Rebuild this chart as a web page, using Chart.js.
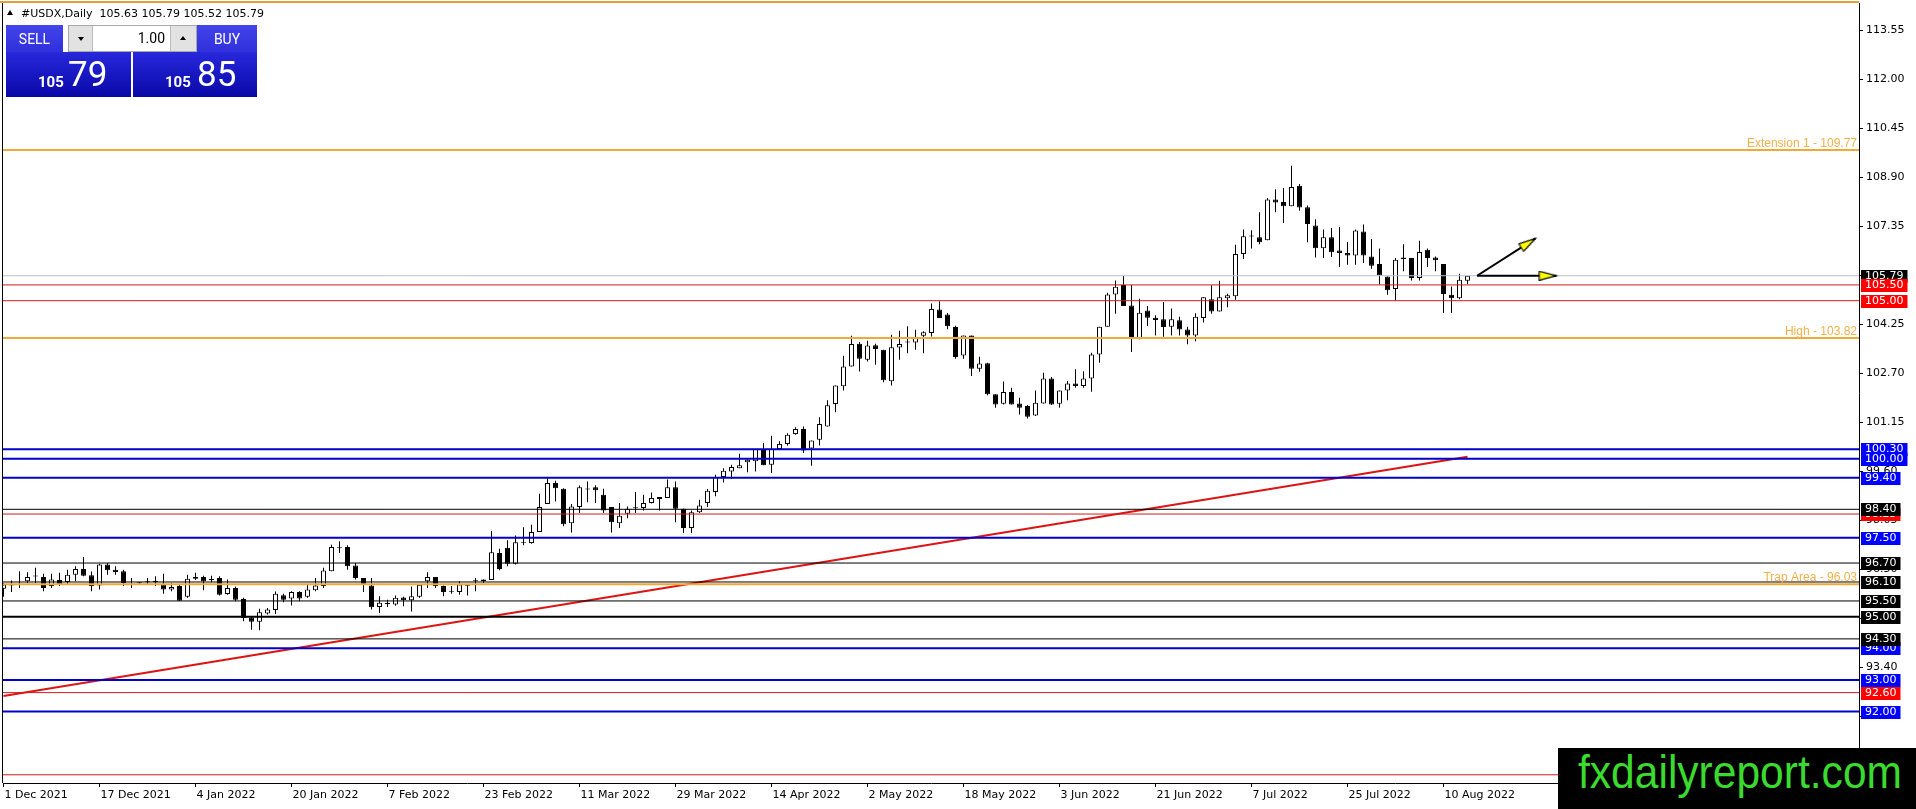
<!DOCTYPE html>
<html><head><meta charset="utf-8">
<script src="https://cdn.jsdelivr.net/npm/chart.js@4.4.1/dist/chart.umd.min.js"></script>
<style>
html,body{margin:0;padding:0;background:#fff;overflow:hidden;}
#wrap{position:relative;width:1916px;height:809px;}
#c{position:absolute;left:0;top:0;width:1916px;height:809px;}
#tri{position:absolute;left:7px;top:10px;width:0;height:0;border-left:3.5px solid transparent;border-right:3.5px solid transparent;border-bottom:5px solid #000;}
#title{position:absolute;left:21px;top:7px;font:11px/13px 'DejaVu Sans';white-space:pre;color:#000;}
.head{position:absolute;top:25px;height:27px;box-sizing:border-box;padding-top:1px;background:linear-gradient(#4444EC,#3030DC);color:#fff;font:14px/26px Roboto;text-align:center;}
#sellHead{left:6px;width:57px;}
#buyHead{left:197px;width:60px;}
.body{position:absolute;top:52px;height:45px;background:linear-gradient(#2828DC,#0808A8);}
#sellBody{left:6px;width:125px;}
#buyBody{left:133px;width:124px;}
.small{position:absolute;top:22.7px;left:32px;font:bold 15px/15px Roboto;color:#fff;}
.big{position:absolute;top:5.3px;font:35px/35px Roboto;color:#fff;}
#sellBody .big{left:62px;}
#buyBody .big{left:64px;}
#spin{position:absolute;left:68px;top:25px;width:129px;height:27px;box-sizing:border-box;border:1px solid #A8A8A8;background:#E2E2E2;}
#lot{position:absolute;left:23px;top:0;width:79px;height:25px;box-sizing:border-box;background:#fff;border-left:1px solid #BDBDBD;border-right:1px solid #BDBDBD;font:14px/25px Roboto;color:#000;text-align:right;padding-right:5px;}
#tdn{position:absolute;left:9px;top:11px;width:0;height:0;border-left:3px solid transparent;border-right:3px solid transparent;border-top:4px solid #000;}
#tup{position:absolute;left:111px;top:10px;width:0;height:0;border-left:3px solid transparent;border-right:3px solid transparent;border-bottom:4px solid #000;}
#wm{position:absolute;left:1558px;top:748px;width:358px;height:61px;background:#000;overflow:hidden;}
#wmt{position:absolute;left:20px;top:1px;font:46px/46px 'Liberation Sans';color:#3ADB2E;white-space:nowrap;transform-origin:0 0;}
</style></head><body>
<div id="wrap">
<canvas id="c" width="1916" height="809"></canvas>
<div id="tri"></div>
<div id="title"></div>
<div id="sellHead" class="head">SELL</div>
<div id="spin"><i id="tdn"></i><div id="lot">1.00</div><i id="tup"></i></div>
<div id="buyHead" class="head">BUY</div>
<div id="sellBody" class="body"><span class="small" id="bidA"></span><span class="big" id="bidB"></span></div>
<div id="buyBody" class="body"><span class="small" id="askA"></span><span class="big" id="askB"></span></div>
<div id="wm"><span id="wmt">fxdailyreport.com</span></div>
</div>
<script>
// ---------------- DATA ----------------
const symbolName = '#USDX,Daily';
const bidPrice = '105.79';
const askPrice = '105.85';

const opens = [95.89,95.99,96.01,96.12,96.27,96.26,95.97,96.16,96.10,96.33,
96.51,96.31,95.99,96.65,96.49,96.44,96.03,96.07,96.09,96.14,
96.02,95.86,95.97,95.63,96.20,96.26,96.16,96.23,95.72,95.91,
95.56,94.98,94.84,95.10,95.21,95.68,95.58,95.78,95.63,95.84,
95.97,96.44,97.17,97.21,96.62,96.23,95.99,95.31,95.40,95.39,
95.61,95.52,95.63,96.12,96.26,95.97,95.80,95.78,95.98,96.12,
96.12,96.16,97.02,97.18,96.68,97.34,97.33,97.68,98.57,99.23,
99.05,97.96,98.47,99.03,99.10,98.86,98.47,97.96,98.26,98.43,
98.44,98.60,98.73,98.76,99.10,98.42,97.81,98.31,98.60,98.95,
99.42,99.60,99.70,99.89,99.92,100.31,99.81,100.31,100.47,100.78,
100.94,100.32,100.60,101.02,101.73,102.29,102.92,103.64,103.13,103.59,
103.45,102.45,103.52,103.68,103.68,103.89,103.98,104.72,104.56,104.17,
103.27,103.90,102.85,103.02,102.04,101.74,102.11,101.75,101.67,101.37,
101.75,102.54,101.74,102.16,102.38,102.30,102.54,103.30,104.18,105.20,
105.50,104.85,103.78,104.69,104.46,104.41,104.18,104.38,104.09,103.90,
104.45,105.05,104.66,105.08,105.14,106.48,107.03,107.01,106.91,108.20,
108.12,107.99,108.64,107.96,107.38,106.66,107.01,106.59,106.51,106.43,
107.19,106.40,106.16,105.77,105.37,106.37,106.35,105.72,106.61,106.37,
106.16,105.19,105.08,105.63];
const highs = [96.07,96.15,96.44,96.41,96.55,96.36,96.36,96.39,96.49,96.60,
96.89,96.43,96.68,96.70,96.60,96.49,96.23,96.10,96.23,96.28,
96.36,96.07,96.02,96.33,96.39,96.30,96.30,96.28,96.18,95.96,
95.60,95.02,95.25,95.28,95.80,95.73,95.81,95.81,96.02,96.23,
96.55,97.28,97.39,97.26,96.70,96.23,96.23,95.65,95.54,95.67,
95.63,95.96,96.01,96.41,96.26,95.99,95.97,96.12,96.02,96.23,
96.18,97.71,97.15,97.42,97.57,97.83,97.91,98.89,99.39,99.30,
99.07,98.57,99.15,99.28,99.16,99.05,98.47,98.60,98.49,98.95,
98.86,98.93,98.79,99.34,99.28,98.42,98.36,98.70,99.04,99.49,
99.70,99.81,100.16,99.99,100.31,100.50,100.73,100.55,100.81,101.00,
101.02,100.58,101.31,101.85,102.32,103.26,103.89,103.69,103.73,103.64,
103.45,103.92,104.05,104.19,104.08,104.03,104.91,104.98,104.61,104.21,
103.90,103.90,103.23,103.04,102.04,102.44,102.25,101.93,101.70,102.16,
102.72,102.59,102.16,102.46,102.83,102.77,103.35,104.18,105.25,105.64,
105.78,105.50,105.06,104.83,104.54,104.96,104.75,104.49,104.18,104.60,
105.11,105.49,105.63,105.22,106.77,107.25,107.23,107.80,108.25,108.53,
108.57,109.27,108.69,108.01,107.58,107.25,107.30,107.33,106.86,107.25,
107.41,106.95,106.65,105.77,106.35,106.79,106.35,106.90,106.65,106.40,
106.16,105.45,105.85,105.79];
const lows = [95.63,95.78,95.91,96.07,96.07,95.81,95.91,95.97,96.02,96.12,
96.28,95.81,95.86,96.33,96.33,95.97,95.91,96.03,96.02,95.97,
95.73,95.81,95.51,95.60,96.16,95.84,96.09,95.67,95.70,95.49,
94.86,94.59,94.57,95.07,95.09,95.46,95.36,95.49,95.60,95.81,
95.91,96.44,97.02,96.49,96.18,95.78,95.23,95.12,95.31,95.35,
95.33,95.17,95.60,95.91,95.91,95.65,95.73,95.70,95.67,95.81,
96.07,96.16,96.47,96.60,96.65,97.26,97.31,97.68,98.57,98.65,
97.86,97.67,98.28,98.62,98.60,98.28,97.67,97.81,98.12,98.28,
98.36,98.58,98.36,98.76,97.99,97.65,97.65,98.28,98.47,98.81,
99.25,99.36,99.70,99.57,99.60,99.79,99.55,100.31,100.41,100.76,
100.18,99.78,100.42,101.02,101.47,102.16,102.92,102.76,103.08,102.97,
102.42,102.32,103.13,103.34,103.45,103.34,103.87,104.45,104.10,103.16,
103.16,102.62,102.75,102.01,101.61,101.72,101.72,101.40,101.27,101.35,
101.75,101.70,101.61,101.85,102.25,102.25,102.12,103.04,104.18,104.59,
104.83,103.38,103.78,104.20,103.90,103.86,103.90,103.90,103.62,103.72,
104.31,104.59,104.66,104.79,105.03,106.32,106.65,106.79,106.91,107.80,
107.46,107.99,107.85,106.85,106.37,106.35,106.38,106.07,106.14,106.14,
106.19,106.01,105.51,105.19,105.00,105.93,105.64,105.64,106.07,105.93,
104.61,104.61,105.05,105.52];
const closes = [96.02,96.00,96.02,96.26,96.29,95.91,96.18,96.02,96.33,96.51,
96.30,95.97,96.65,96.47,96.42,96.07,96.01,96.06,96.10,96.10,
95.86,95.94,95.51,96.20,96.26,96.12,96.18,95.70,95.91,95.54,
94.96,94.84,95.14,95.23,95.73,95.54,95.78,95.58,95.86,95.99,
96.46,97.21,97.19,96.60,96.23,96.02,95.30,95.44,95.42,95.60,
95.52,95.65,96.01,96.26,95.97,95.78,95.79,96.02,95.99,96.13,
96.18,97.04,96.51,96.68,97.36,97.36,97.68,98.47,99.23,99.07,
97.93,98.49,99.10,99.04,99.00,98.36,97.99,98.20,98.42,98.45,
98.60,98.76,98.79,99.10,98.42,97.81,98.31,98.52,98.99,99.42,
99.62,99.74,99.79,99.97,100.31,99.79,100.31,100.47,100.76,100.94,
100.26,100.58,101.10,101.69,102.32,102.92,103.63,103.16,103.58,103.47,
102.48,103.53,103.63,103.70,103.85,104.00,104.74,104.45,104.19,103.22,
103.90,102.85,103.01,102.04,101.72,102.11,101.72,101.61,101.33,101.77,
102.54,101.72,102.16,102.38,102.30,102.54,103.30,104.18,105.20,105.44,
104.83,103.81,104.62,104.46,104.39,104.17,104.41,104.09,103.90,104.49,
105.11,104.66,105.11,105.17,106.48,107.04,107.04,106.85,108.20,108.11,
107.99,108.60,107.95,107.43,106.66,107.01,106.53,106.51,106.43,107.22,
106.43,106.11,105.80,105.33,106.30,106.32,105.72,106.54,106.35,106.28,
105.21,105.08,105.66,105.79];

const xTickIndex = [0,12,24,36,48,60,72,84,96,108,120,132,144,156,168,180];
const xTickLabels = ['1 Dec 2021','17 Dec 2021','4 Jan 2022','20 Jan 2022','7 Feb 2022','23 Feb 2022',
  '11 Mar 2022','29 Mar 2022','14 Apr 2022','2 May 2022','18 May 2022','3 Jun 2022',
  '21 Jun 2022','7 Jul 2022','25 Jul 2022','10 Aug 2022'];
const yTickValues = [113.55,112.00,110.45,108.90,107.35,105.80,104.25,102.70,101.15,99.60,98.05,96.50,94.95,93.40,91.85,90.30];

const currentPrice = 105.79;
const blueLevels = [100.30,100.00,99.40,97.50,94.00,93.00,92.00];
const redLevels = [105.50,105.00,98.25,92.60,90.00];
const blackLevels = [98.40,96.70,96.10,95.50,95.00,94.30];
const orangeLevels = [109.77,103.82,96.03];
const orangeNames = ['Extension 1','High','Trap Area'];
const labelOrder = [105.79,105.50,105.00,100.30,100.00,99.40,98.25,98.40,97.50,96.70,96.10,95.50,95.00,94.00,94.30,93.00,92.60,92.00,90.00];

const trendStart = {x:0, y:92.49};
const trendEnd = {x:183, y:100.06};
const arrowFrom = {x:184.2, y:105.79};
const arrowUpTo = {x:191.5, y:106.97};
const arrowRightTo = {x:194.1, y:105.79};

// ---------------- LAYOUT ----------------
const X_MIN = -0.0625, X_MAX = 231.9375;
const Y_MIN = 89.74, Y_MAX = 114.42;
const AXIS_FONT = {family:"'DejaVu Sans'", size:11};

// text overlays
const last = opens.length - 1;
document.getElementById('title').textContent = symbolName + '  ' +
  [opens[last], highs[last], lows[last], closes[last]].map(v => v.toFixed(2)).join(' ');
function splitPrice(s){ return [s.slice(0, s.length-2).replace('.', ''), s.slice(-2)]; }
const b = splitPrice(bidPrice), a = splitPrice(askPrice);
document.getElementById('bidA').textContent = b[0];
document.getElementById('bidB').textContent = b[1];
document.getElementById('askA').textContent = a[0];
document.getElementById('askB').textContent = a[1];

// arrow head image (tip at canvas centre)
const head = document.createElement('canvas');
head.width = 10; head.height = 36;
(function(){
  const g = head.getContext('2d');
  g.beginPath(); g.moveTo(5,18); g.lineTo(9.5,35); g.lineTo(0.5,35); g.closePath();
  g.fillStyle = '#FFFF00'; g.fill();
  g.strokeStyle = '#000'; g.lineWidth = 1.2; g.stroke();
})();

const wickData = opens.map((o,i) => ({x:i, y:[lows[i], highs[i]]}));
const bodyData = opens.map((o,i) => ({x:i, y:[o, closes[i]]}));
const bodyColors = opens.map((o,i) => closes[i] >= o ? '#FFFFFF' : '#000000');

function levelLine(p, color, width, order){
  return {type:'line', data:[{x:X_MIN,y:p},{x:X_MAX,y:p}], borderColor:color, borderWidth:width,
    pointRadius:0, order:order, clip:false};
}
const levelSets = [];
levelSets.push(levelLine(currentPrice, '#C0C0C0', 1, 22));
redLevels.forEach(p => levelSets.push(levelLine(p, '#D21A1A', 1, 21)));
blackLevels.forEach(p => levelSets.push(levelLine(p, '#000000', p === 95.00 ? 2 : 1, 21)));
blueLevels.forEach(p => levelSets.push(levelLine(p, '#0000CC', 2, 20)));
orangeLevels.forEach(p => levelSets.push(levelLine(p, '#F0A836', 2, 20)));

function arrowSet(from, to, rot){
  return {type:'line', data:[from, to], borderColor:'#000', borderWidth:2, order:10,
    pointRadius: c => c.dataIndex === 1 ? 5 : 0,
    pointStyle: c => c.dataIndex === 1 ? head : 'circle',
    pointRotation: rot, clip:false};
}

function boxColor(p){
  if (p === currentPrice) return '#000000';
  if (blueLevels.includes(p)) return '#0000FF';
  if (redLevels.includes(p)) return '#FF0000';
  return '#000000';
}

function noPad(s){ s.paddingLeft = 0; s.paddingRight = 0; s.paddingTop = 0; s.paddingBottom = 0; }

const overlay = {
  id:'overlay',
  afterDatasetsDraw(chart){
    const {ctx, chartArea:ar, scales:{y}} = chart;
    ctx.save();
    ctx.font = '12px "Liberation Sans"';
    ctx.fillStyle = '#F2B04A';
    ctx.textAlign = 'right'; ctx.textBaseline = 'alphabetic';
    orangeLevels.forEach((p,i) => {
      ctx.fillText(orangeNames[i] + ' - ' + p.toFixed(2), ar.right - 2, y.getPixelForValue(p) - 3);
    });
    ctx.strokeStyle = '#E0A040'; ctx.lineWidth = 2;
    ctx.beginPath(); ctx.moveTo(0,2); ctx.lineTo(ar.right,2); ctx.stroke();
    ctx.strokeStyle = '#000'; ctx.lineWidth = 1;
    ctx.beginPath(); ctx.moveTo(ar.left-0.5, ar.top); ctx.lineTo(ar.left-0.5, ar.bottom); ctx.stroke();
    ctx.restore();
  },
  afterDraw(chart){
    const {ctx, chartArea:ar, scales:{y}} = chart;
    ctx.save();
    ctx.font = "11px 'DejaVu Sans'";
    ctx.textBaseline = 'middle'; ctx.textAlign = 'left';
    labelOrder.forEach(p => {
      const py = y.getPixelForValue(p);
      const t = p.toFixed(2);
      const w = ctx.measureText(t).width;
      ctx.fillStyle = boxColor(p);
      ctx.fillRect(ar.right + 2, Math.round(py) - 6, w + 8, 13);
      ctx.fillStyle = '#FFFFFF';
      ctx.fillText(t, ar.right + 6, Math.round(py) + 0.5);
    });
    ctx.restore();
  }
};

new Chart(document.getElementById('c'), {
  type:'bar',
  data:{datasets:[
    {type:'bar', data:bodyData, backgroundColor:bodyColors, borderColor:'#000', borderWidth:1,
     borderSkipped:false, barThickness:5, minBarLength:1, grouped:false, inflateAmount:0, order:40},
    {type:'bar', data:wickData, backgroundColor:'#000', borderWidth:0, barThickness:1,
     grouped:false, inflateAmount:0, order:50},
    {type:'line', data:[trendStart, trendEnd], borderColor:'#DC1414', borderWidth:2, pointRadius:0, order:30},
    ...levelSets,
    arrowSet(arrowFrom, arrowUpTo, 57.4),
    arrowSet(arrowFrom, arrowRightTo, 90)
  ]},
  options:{
    responsive:false, animation:false, devicePixelRatio:1, events:[],
    layout:{autoPadding:false, padding:{left:3, top:3, right:0, bottom:0}},
    plugins:{legend:{display:false}, tooltip:{enabled:false}},
    scales:{
      x:{type:'linear', min:X_MIN, max:X_MAX, offset:false, position:'bottom',
        grid:{display:true, drawOnChartArea:false, drawTicks:true, tickLength:4, color:'#000', offset:false},
        border:{display:true, color:'#000', width:1},
        ticks:{autoSkip:false, maxRotation:0, minRotation:0, align:'start', labelOffset:1, padding:2,
          color:'#000', font:AXIS_FONT, callback:(v,i) => xTickLabels[i]},
        afterBuildTicks:s => { s.ticks = xTickIndex.map(v => ({value:v})); },
        afterFit:s => { s.height = 26; noPad(s); }
      },
      y:{type:'linear', position:'right', min:Y_MIN, max:Y_MAX,
        grid:{display:true, drawOnChartArea:false, drawTicks:true, tickLength:4, color:'#000'},
        border:{display:true, color:'#000', width:1},
        ticks:{autoSkip:false, padding:3, color:'#000', font:AXIS_FONT, callback:v => v.toFixed(2)},
        afterBuildTicks:s => { s.ticks = yTickValues.map(v => ({value:v})); },
        afterFit:s => { s.width = 57; noPad(s); }
      }
    }
  },
  plugins:[overlay]
});

const wmt = document.getElementById('wmt');
const ww = wmt.getBoundingClientRect().width;
if (ww > 0) wmt.style.transform = 'scaleX(' + (324 / ww) + ')';
</script>
</body></html>
